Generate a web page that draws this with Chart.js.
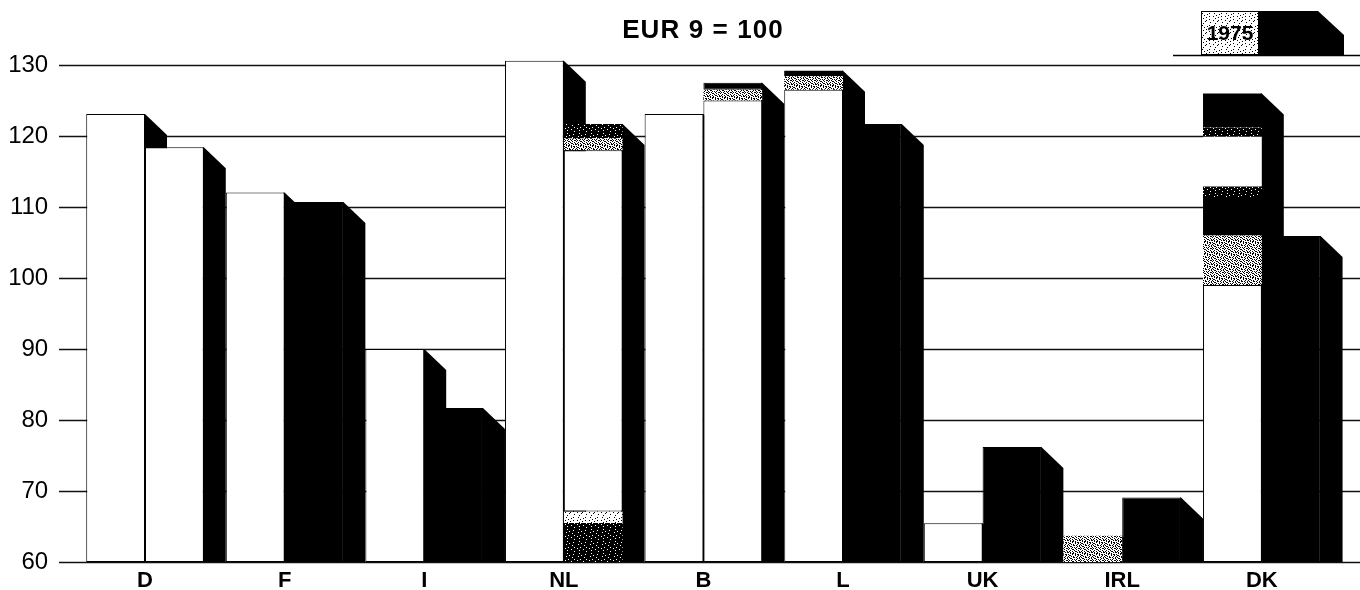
<!DOCTYPE html>
<html>
<head>
<meta charset="utf-8">
<style>
    html, body { margin: 0; padding: 0; background: #fff; overflow: hidden; }
    #chart { display: block; }
</style>
<script src="https://cdn.jsdelivr.net/npm/chart.js@4/dist/chart.umd.min.js"></script>
</head>
<body>
<canvas id="chart" width="1360" height="590"></canvas>
<script>
const categories = ['D', 'F', 'I', 'NL', 'B', 'L', 'UK', 'IRL', 'DK'];
const yTicks = [60, 70, 80, 90, 100, 110, 120, 130];

// left bar of each pair, [from, to] for every printed band
const leftWhite    = [[60, 123.1], [60, 112.05], [60, 90], [60, 130.6], [60, 123.1], [60, 126.5], [60, 65.45], null, [60, 99]];
const leftSpeckle  = [null, null, null, null, null, [126.5, 128.4], null, [60, 63.7], [99, 106]];
const leftBlack    = [null, null, null, null, null, [128.4, 129.2], null, null, [106, 111.4]];
const leftDkShade  = [null, null, null, null, null, null, null, null, [111.4, 112.9]];
const leftDkWhite  = [null, null, null, null, null, null, null, null, [112.9, 119.9]];
const leftDkShade2 = [null, null, null, null, null, null, null, null, [119.9, 121.2]];
const leftDkBlack  = [null, null, null, null, null, null, null, null, [121.2, 126]];

// right bar of each pair
const rightBlack   = [null, [60, 110.7], [60, 81.7], null, [126.5, 127.5], [60, 121.7], [60, 76.2], [60, 69.1], [60, 105.9]];
const rightWhite   = [[60, 118.4], null, null, [67.1, 118], [60, 125], null, null, null, null];
const rightSpeckle = [null, null, null, [118, 119.7], [125, 126.5], null, null, null, null];
const rightLower   = [null, null, null, [65.5, 67.1], null, null, null, null, null];
const rightShade   = [null, null, null, [119.7, 121.7], null, null, null, null, null];
const rightBase    = [null, null, null, [60, 65.5], null, null, null, null, null];

const FONT = '"Liberation Sans", Arial, sans-serif';
const DEPTH_X = 22;
const DEPTH_Y = 21;
const PLOT_BOTTOM = 562;

// small dither tiles for the printed screen
const tileLight = [
    '............',
    '..#......#..',
    '.......#....',
    '....#.......',
    '.#.......#..',
    '......#.....',
    '...#........',
    '.........#..',
    '.#....#.....',
    '.....#......',
    '..........#.',
    '...#........'
];
const tileHeavy = [
    '#.#..#...#.#',
    '..#.##.#....',
    '#...#..#.##.',
    '.##....#..#.',
    '#..#.#...#..',
    '.#...##.#..#',
    '..##.....#.#',
    '#...#.#.#...',
    '.#.#...#..##',
    '#...##..#...',
    '..#...#...#.',
    '.#..#..##..#'
];
const tileDark = [
    '############',
    '###.########',
    '#########.##',
    '#####.######',
    '##.#########',
    '########.###',
    '############',
    '####.#####.#',
    '#.##########',
    '#######.####',
    '###.########',
    '##########.#'
];

function makePattern(rows) {
    const tile = document.createElement('canvas');
    tile.width = rows[0].length;
    tile.height = rows.length;
    const c = tile.getContext('2d');
    c.fillStyle = '#fff';
    c.fillRect(0, 0, tile.width, tile.height);
    c.fillStyle = '#000';
    rows.forEach((row, y) => {
        for (let x = 0; x < row.length; x++) {
            if (row[x] === '#') c.fillRect(x, y, 1, 1);
        }
    });
    return c.createPattern(tile, 'repeat');
}

const light = makePattern(tileLight);
const heavy = makePattern(tileHeavy);
const dark = makePattern(tileDark);

function band(data, stack, fill, outlined) {
    return {
        data: data,
        stack: stack,
        backgroundColor: fill,
        borderColor: '#000',
        borderWidth: outlined ? 1 : 0,
        borderSkipped: false,
        categoryPercentage: 0.842,
        barPercentage: 1,
        clip: false
    };
}

// grid lines run past the plot on both sides, sides of the bars sit behind the fronts
const backdrop = {
    id: 'backdrop',
    afterLayout(chart) {
        // stretch the plot down to the axis line of the original
        const { x, y } = chart.scales;
        chart.chartArea.bottom = PLOT_BOTTOM;
        chart.chartArea.height = PLOT_BOTTOM - chart.chartArea.top;
        y.bottom = PLOT_BOTTOM;
        y.height = PLOT_BOTTOM - y.top;
        y.configure();
        x.top = PLOT_BOTTOM;
        x.bottom = 590;
        x.height = 28;
        x.configure();
    },
    beforeDatasetsDraw(chart) {
        const { ctx, scales: { y } } = chart;
        ctx.save();
        ctx.strokeStyle = '#111';
        ctx.lineWidth = 1.4;
        yTicks.forEach(v => {
            const py = Math.round(y.getPixelForValue(v)) + 0.5;
            ctx.beginPath();
            ctx.moveTo(59, py);
            ctx.lineTo(1360, py);
            ctx.stroke();
        });

        const columns = {};
        chart.getSortedVisibleDatasetMetas().forEach(meta => {
            meta.data.forEach((bar, i) => {
                if (!chart.data.datasets[meta.index].data[i]) return;
                const key = Math.round(bar.x);
                if (!columns[key] || bar.y < columns[key].y) columns[key] = bar;
            });
        });
        ctx.fillStyle = '#000';
        Object.values(columns).forEach(bar => {
            const right = bar.x + bar.width / 2;
            const base = y.getPixelForValue(60);
            ctx.beginPath();
            ctx.moveTo(right - 1, bar.y);
            ctx.lineTo(right, bar.y);
            ctx.lineTo(right + DEPTH_X, bar.y + DEPTH_Y);
            ctx.lineTo(right + DEPTH_X, base);
            ctx.lineTo(right - 1, base);
            ctx.closePath();
            ctx.fill();
        });
        ctx.restore();
    },
    afterDraw(chart) {
        const { ctx } = chart;
        ctx.save();
        // title
        ctx.fillStyle = '#000';
        ctx.font = 'bold 26px ' + FONT;
        ctx.letterSpacing = '1.1px';
        ctx.textAlign = 'center';
        ctx.textBaseline = 'middle';
        ctx.fillText('EUR 9 = 100', 703, 31);
        ctx.letterSpacing = '0px';

        // key, top right
        ctx.strokeStyle = '#000';
        ctx.lineWidth = 1.4;
        ctx.beginPath();
        ctx.moveTo(1173, 55.5);
        ctx.lineTo(1360, 55.5);
        ctx.stroke();
        ctx.fillStyle = light;
        ctx.fillRect(1201, 11, 57, 44);
        ctx.lineWidth = 1;
        ctx.strokeRect(1201.5, 11.5, 57, 43);
        ctx.fillStyle = '#000';
        ctx.beginPath();
        ctx.moveTo(1258, 11);
        ctx.lineTo(1318, 11);
        ctx.lineTo(1344, 35);
        ctx.lineTo(1344, 55);
        ctx.lineTo(1258, 55);
        ctx.closePath();
        ctx.fill();
        ctx.font = 'bold 21px ' + FONT;
        ctx.fillText('1975', 1230, 34);
        ctx.restore();
    }
};

new Chart(document.getElementById('chart'), {
    type: 'bar',
    data: {
        labels: categories,
        datasets: [
            band(leftWhite, 'left', '#fff', true),
            band(leftSpeckle, 'left', heavy, false),
            band(leftBlack, 'left', '#000', false),
            band(leftDkShade, 'left', dark, false),
            band(leftDkWhite, 'left', '#fff', false),
            band(leftDkShade2, 'left', dark, false),
            band(leftDkBlack, 'left', '#000', false),
            band(rightWhite, 'right', '#fff', true),
            band(rightSpeckle, 'right', heavy, false),
            band(rightLower, 'right', light, false),
            band(rightShade, 'right', dark, false),
            band(rightBase, 'right', dark, false),
            band(rightBlack, 'right', '#000', true)
        ]
    },
    options: {
        responsive: false,
        animation: false,
        devicePixelRatio: 1,
        layout: { padding: { top: 65, right: 28.4, bottom: 0, left: 0 } },
        plugins: {
            legend: { display: false },
            title: { display: false },
            tooltip: { enabled: false }
        },
        scales: {
            x: {
                stacked: true,
                offset: true,
                border: { display: false },
                grid: { display: false, drawTicks: false },
                ticks: {
                    color: '#000',
                    padding: 6,
                    maxRotation: 0,
                    autoSkip: false,
                    font: { family: FONT, size: 22, weight: 'bold' }
                },
                afterFit(scale) { scale.height = 28; }
            },
            y: {
                stacked: false,
                min: 60,
                max: 130,
                border: { display: false },
                grid: { display: false, drawTicks: false },
                afterBuildTicks(scale) { scale.ticks = yTicks.map(v => ({ value: v })); },
                ticks: {
                    color: '#000',
                    padding: 27,
                    font: { family: FONT, size: 24 }
                },
                afterFit(scale) { scale.width = 75.2; }
            }
        }
    },
    plugins: [backdrop]
});
</script>
</body>
</html>
